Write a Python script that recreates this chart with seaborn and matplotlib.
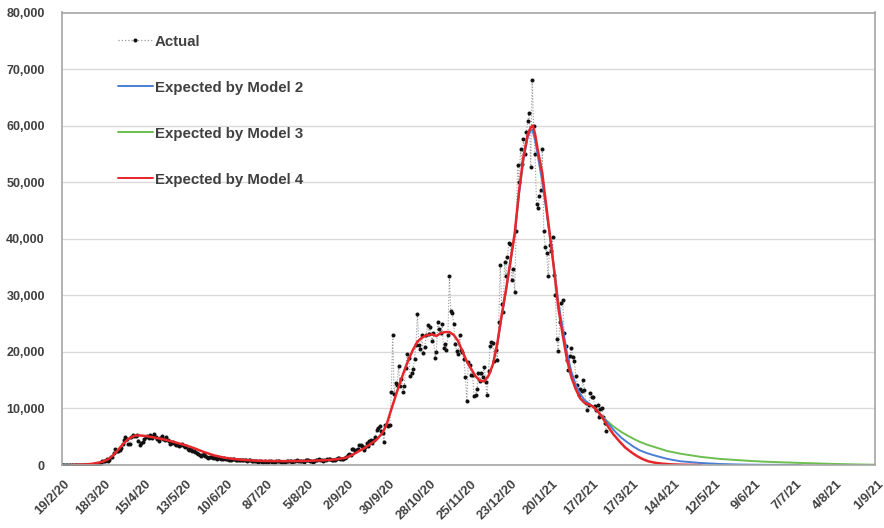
import datetime as dt

import matplotlib
matplotlib.use("Agg")
import matplotlib.pyplot as plt
import matplotlib.ticker as mticker
import matplotlib.transforms as mtransforms
from matplotlib.lines import Line2D
import pandas as pd
import seaborn as sns

START = dt.date(2020, 2, 19)

# Daily reported cases, one list per calendar month (first list starts 19 Feb 2020)
cases_feb20 = [0, 0, 0, 0, 4, 0, 0, 0, 3, 2, 5]
cases_mar20 = [12, 4, 11, 34, 30, 48, 43, 67, 48, 61,
               52, 83, 134, 117, 233, 152, 407, 676, 643, 714,
               1035, 665, 967, 1427, 1452, 2129, 2885, 2546, 2433, 2619, 3009]
cases_apr20 = [3800, 4400, 4900, 4600, 3700, 3800, 4900, 5300, 5200, 5100,
               5300, 4300, 3600, 3900, 4000, 4600, 4900, 5200, 4800, 5300,
               4700, 5200, 5400, 4900, 4600, 4300, 4800, 5200, 4600, 4400]
cases_may20 = [4900, 4500, 4200, 3700, 3900, 4100, 3800, 3600, 3500, 3300,
               3500, 3700, 3400, 3200, 3300, 2900, 2600, 2800, 2500, 2400,
               2300, 2100, 2000, 1700, 1600, 1700, 1900, 1600, 1500, 1300, 1400]
cases_jun20 = [1400, 1300, 1500, 1200, 1100, 1300, 1200, 1000, 1100, 1200,
               1000, 1100, 900, 1000, 900, 1000, 1000, 900, 850, 950,
               900, 800, 850, 900, 800, 750, 850, 800, 700, 750]
cases_jul20 = [650, 700, 600, 650, 700, 550, 600, 650, 600, 550,
               650, 700, 500, 550, 600, 650, 700, 700, 600, 550,
               500, 600, 700, 750, 700, 650, 600, 650, 700, 800, 750]
cases_aug20 = [700, 750, 650, 600, 800, 850, 800, 750, 700, 600,
               650, 800, 900, 1000, 950, 850, 700, 800, 900, 1000,
               1100, 1000, 950, 850, 900, 1050, 1150, 1200, 1100, 1000, 1100]
cases_sep20 = [1300, 1500, 1700, 1900, 1800, 2900, 2900, 2400, 2700, 2900,
               3500, 3500, 3300, 2600, 3100, 3900, 3400, 4300, 4400, 3900,
               4400, 4900, 6200, 6600, 6900, 6000, 5700, 4000, 7100, 7100]
cases_oct20 = [6900, 7000, 12900, 22960, 12600, 14500, 14200, 17500, 13900, 15200,
               12900, 14000, 17200, 19700, 19000, 15700, 16200, 17000, 18800, 21300,
               26700, 21200, 20500, 23000, 19800, 20900, 22900, 24700, 23100, 24400, 21900]
cases_nov20 = [23300, 19000, 20000, 25200, 24100, 23300, 25000, 20600, 21400, 20400,
               23000, 33470, 27300, 26900, 25000, 21400, 20100, 19600, 22900, 20300,
               19900, 18700, 15500, 11300, 18200, 17600, 16000, 15900, 12200, 12300]
cases_dec20 = [13400, 16200, 14900, 16300, 15500, 17300, 14700, 12300, 16600, 21000,
               21700, 21500, 18400, 20300, 18500, 25200, 35400, 28500, 27100, 35900,
               33400, 36800, 39200, 39000, 32700, 34700, 30500, 41400, 53100, 50000, 55900]
cases_jan21 = [53300, 57700, 55000, 58800, 60900, 62300, 52600, 68053, 59900, 54900,
               46200, 45500, 47500, 48700, 55800, 41300, 38600, 37500, 33400, 38900,
               37900, 40300, 33600, 30000, 22200, 20100, 25300, 28700, 29100, 23300, 21100]
cases_feb21 = [18600, 16800, 19200, 20600, 19100, 18300, 15800, 14100, 12400, 13500,
               13000, 15100, 13300, 11000, 9800, 10600, 12700, 12100, 12000, 10400,
               9800, 10600, 8500, 9900, 10000, 8500, 7400, 6000]

month_starts = ["2020-02-19", "2020-03-01", "2020-04-01", "2020-05-01", "2020-06-01",
                "2020-07-01", "2020-08-01", "2020-09-01", "2020-10-01", "2020-11-01",
                "2020-12-01", "2021-01-01", "2021-02-01"]
month_cases = [cases_feb20, cases_mar20, cases_apr20, cases_may20, cases_jun20,
               cases_jul20, cases_aug20, cases_sep20, cases_oct20, cases_nov20,
               cases_dec20, cases_jan21, cases_feb21]

# Fitted curves: day offset from 19/2/20 and expected daily cases
model4_day = [7, 14, 21, 28, 32, 35, 38, 42, 46, 50, 53, 57, 63, 70, 77, 84, 91, 98,
              105, 112, 119, 126, 133, 140, 154, 168, 182, 189, 196, 201, 205, 208,
              212, 217, 221, 224, 226, 228.5, 231, 233, 236, 239, 242, 245, 248, 251,
              255, 258, 261, 264, 267, 270, 273, 276, 279, 282, 285, 288, 291, 294,
              297, 300, 303, 306, 309, 312, 315, 318, 321, 323, 324.5, 326, 328, 331,
              334, 337, 340, 342, 345, 348, 351, 354, 357, 360, 363, 366, 369, 371,
              374, 377, 380, 384, 388, 392, 396, 400, 404, 409, 414, 420, 428, 440]
model4_val = [0, 60, 200, 550, 1000, 1600, 2400, 3600, 4600, 5150, 5250, 5150, 4900,
              4550, 4100, 3600, 3000, 2300, 1700, 1300, 1050, 880, 780, 720, 680, 720,
              850, 1000, 1300, 1900, 2500, 2900, 3600, 4500, 5700, 7300, 9000, 11000,
              13000, 14500, 16700, 18700, 20400, 21800, 22500, 22900, 23100, 22800,
              23300, 23500, 23500, 23000, 21900, 20100, 18300, 17000, 15700, 14900,
              14800, 15800, 17800, 21500, 26500, 31000, 36000, 41000, 48500, 54500,
              58500, 59700, 60000, 58500, 55500, 51500, 45200, 39000, 32500, 27800,
              23000, 18600, 15500, 13400, 11800, 11000, 10700, 10300, 9500, 8900, 7700,
              6500, 5400, 4200, 3100, 2300, 1600, 1050, 650, 380, 220, 110, 40, 0]

model2_day = [300, 303, 306, 309, 312, 315, 318, 321, 323, 324, 326, 328, 331, 334,
              337, 340, 342, 345, 348, 351, 354, 357, 360, 363, 366, 369, 371, 375,
              380, 385, 389, 394, 398, 403, 408, 417, 426, 440, 453, 467, 480, 495, 509]
model2_val = [21300, 26200, 30800, 35800, 40800, 48000, 54000, 58000, 59100, 59300,
              57500, 54500, 50000, 44500, 38800, 33000, 28800, 24200, 19800, 16500,
              14200, 12600, 11500, 10900, 10300, 9500, 8900, 7800, 6200, 4900, 4100,
              3200, 2600, 2100, 1700, 1080, 660, 360, 180, 80, 40, 20, 0]

model3_day = [357, 360, 363, 366, 369, 371, 375, 380, 385, 389, 394, 398, 403, 408,
              417, 426, 440, 453, 467, 474, 483, 495, 507, 520, 530, 545, 560]
model3_val = [11800, 11000, 10700, 10300, 9600, 8900, 7900, 6800, 5900, 5300, 4600,
              4100, 3600, 3200, 2470, 2000, 1440, 1080, 840, 720, 600, 480, 380, 280,
              200, 110, 50]

tick_labels = ["19/2/20", "18/3/20", "15/4/20", "13/5/20", "10/6/20", "8/7/20",
               "5/8/20", "2/9/20", "30/9/20", "28/10/20", "25/11/20", "23/12/20",
               "20/1/21", "17/2/21", "17/3/21", "14/4/21", "12/5/21", "9/6/21",
               "7/7/21", "4/8/21", "1/9/21"]

legend_labels = ["Actual", "Expected by Model 2", "Expected by Model 3",
                 "Expected by Model 4"]

BLUE = "#4A7FD6"
GREEN = "#6DBE4F"
RED = "#E5262A"
TEXT = "#404040"
DOT_LINE = "#999999"

# Daily series as day offsets from the first date
frames = []
for start, vals in zip(month_starts, month_cases):
    days = pd.date_range(start, periods=len(vals), freq="D")
    offs = (days - pd.Timestamp(START)).days
    frames.append(pd.DataFrame({"day": offs, "cases": vals}))
actual = pd.concat(frames, ignore_index=True)

tick_pos = [(dt.datetime.strptime(t, "%d/%m/%y").date() - START).days
            for t in tick_labels]

sns.set_theme(style="white")
plt.rcParams["font.family"] = ["Liberation Sans", "DejaVu Sans"]

fig = plt.figure(figsize=(8.84, 5.28), dpi=100)
ax = fig.add_axes([61.5 / 884, 63 / 528, 813.5 / 884, 452.5 / 528])

ax.yaxis.grid(True, color="#d9d9d9", linewidth=1.0)
ax.xaxis.grid(False)
ax.set_axisbelow(True)

sns.lineplot(data=actual, x="day", y="cases", ax=ax, estimator=None, sort=False,
             color=DOT_LINE, linestyle=(0, (1, 1.6)), linewidth=0.8,
             marker="o", markersize=2.9, markerfacecolor="#111111",
             markeredgecolor="#111111", markeredgewidth=0, legend=False)
sns.lineplot(x=model3_day, y=model3_val, ax=ax, color=GREEN, linewidth=1.4,
             estimator=None, legend=False)
sns.lineplot(x=model2_day, y=model2_val, ax=ax, color=BLUE, linewidth=1.4,
             estimator=None, legend=False)
sns.lineplot(x=model4_day, y=model4_val, ax=ax, color=RED, linewidth=1.8,
             estimator=None, legend=False)

ax.set_xlim(0, 560)
ax.set_ylim(0, 80000)
ax.set_xticks(tick_pos)
ax.set_xticklabels(tick_labels, rotation=45, ha="right", rotation_mode="anchor")
ax.set_yticks(range(0, 80001, 10000))
ax.yaxis.set_major_formatter(mticker.FuncFormatter(lambda v, p: f"{int(v):,}"))
ax.set_xlabel("")
ax.set_ylabel("")

ax.tick_params(axis="x", length=4, width=1, color="#bfbfbf", pad=4,
               labelsize=9.4, labelcolor=TEXT)
ax.tick_params(axis="y", length=0, pad=12, labelsize=9, labelcolor=TEXT)
shift = mtransforms.ScaledTranslation(2 / 100, -2 / 100, fig.dpi_scale_trans)
for lab in ax.get_xticklabels():
    lab.set_fontweight("bold")
    lab.set_transform(lab.get_transform() + shift)
for lab in ax.get_yticklabels():
    lab.set_fontweight("bold")

for sp in ax.spines.values():
    sp.set_visible(True)
    sp.set_color("#a6a6a6")
    sp.set_linewidth(1.2)

handles = [
    Line2D([], [], color=DOT_LINE, linestyle=(0, (1, 1.6)), linewidth=0.9,
           marker="o", markersize=2.9, markerfacecolor="#111111",
           markeredgecolor="#111111", markeredgewidth=0),
    Line2D([], [], color=BLUE, linewidth=1.4),
    Line2D([], [], color=GREEN, linewidth=1.4),
    Line2D([], [], color=RED, linewidth=1.4),
]
ax.legend(handles, legend_labels, loc="upper left", bbox_to_anchor=(0.0695, 0.951),
          frameon=False, prop={"weight": "bold", "size": 10.8}, labelcolor=TEXT,
          handlelength=2.3, handletextpad=0.15, labelspacing=2.13,
          borderpad=0, borderaxespad=0)

fig.savefig("out.png", dpi=100)
